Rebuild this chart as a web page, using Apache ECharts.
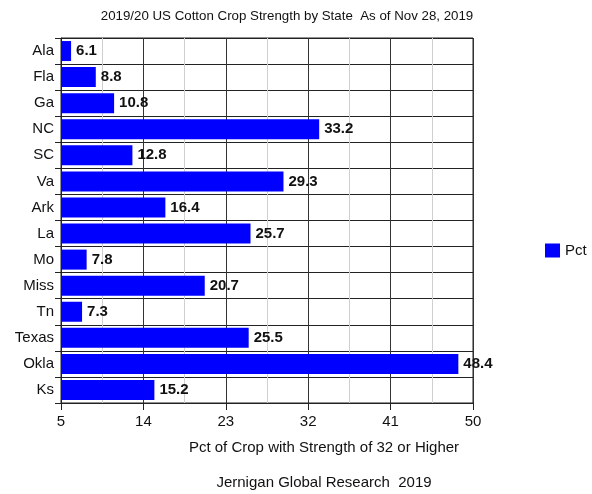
<!DOCTYPE html>
<html>
<head>
<meta charset="utf-8">
<script src="https://cdn.jsdelivr.net/npm/echarts@6/dist/echarts.min.js"></script>
<style>html,body{margin:0;padding:0;background:#fff;}#c{width:592px;height:494px;}</style>
</head>
<body>
<div id="c"></div>
<script>
const categories = ["Ala","Fla","Ga","NC","SC","Va","Ark","La","Mo","Miss","Tn","Texas","Okla","Ks"];
const pctValues = [6.1, 8.8, 10.8, 33.2, 12.8, 29.3, 16.4, 25.7, 7.8, 20.7, 7.3, 25.5, 48.4, 15.2];
const majorTicks = [5, 14, 23, 32, 41, 50];
const minorTicks = [9.5, 18.5, 27.5, 36.5, 45.5];
const seriesName = "Pct";
const titleText = "2019/20 US Cotton Crop Strength by State  As of Nov 28, 2019";
const xAxisName = "Pct of Crop with Strength of 32 or Higher";
const footerText = "Jernigan Global Research  2019";

const FONT = "Liberation Sans, Arial, sans-serif";
const chart = echarts.init(document.getElementById('c'), null, {renderer: 'canvas'});
chart.setOption({
  animation: false,
  backgroundColor: '#fff',
  textStyle: {fontFamily: FONT},
  title: [
    {text: titleText, left: 282, top: 5, textAlign: 'center',
     textStyle: {fontSize: 13.3, fontWeight: 'normal', color: '#111', fontFamily: FONT}},
    {text: xAxisName, left: 319, top: 435, textAlign: 'center',
     textStyle: {fontSize: 15, fontWeight: 'normal', color: '#111', fontFamily: FONT}},
    {text: footerText, left: 319, top: 470, textAlign: 'center',
     textStyle: {fontSize: 15, fontWeight: 'normal', color: '#111', fontFamily: FONT}}
  ],
  legend: {
    left: 545, top: 243, orient: 'vertical', padding: 0,
    icon: 'rect', itemWidth: 15, itemHeight: 14, itemGap: 5,
    textStyle: {fontSize: 15, color: '#111', fontFamily: FONT},
    data: [seriesName]
  },
  grid: {left: 61, right: 119, top: 38, bottom: 91, show: true, borderColor: '#222', borderWidth: 1, containLabel: false},
  xAxis: [
    {
      type: 'value', min: 5, max: 50, position: 'bottom',
      axisLine: {show: true, lineStyle: {color: '#222'}},
      axisTick: {show: true, length: 7, lineStyle: {color: '#222'}, customValues: majorTicks},
      axisLabel: {show: true, margin: 11, fontSize: 15, color: '#111', fontFamily: FONT, customValues: majorTicks},
      splitLine: {show: true, lineStyle: {color: '#333', width: 1}}
    },
    {
      type: 'value', min: 5, max: 50, position: 'bottom',
      axisLine: {show: false},
      axisTick: {show: false, customValues: minorTicks},
      axisLabel: {show: false, customValues: minorTicks},
      splitLine: {show: true, lineStyle: {color: '#cfcfcf', width: 1}}
    }
  ],
  yAxis: {
    type: 'category', data: categories, inverse: true,
    axisLine: {show: true, lineStyle: {color: '#222'}},
    axisTick: {show: true, length: 6, lineStyle: {color: '#222'}},
    axisLabel: {margin: 7, fontSize: 15, color: '#111', fontFamily: FONT},
    splitLine: {show: true, lineStyle: {color: '#222', width: 1}}
  },
  series: [
    {
      name: seriesName, type: 'bar', data: pctValues, xAxisIndex: 0,
      barWidth: 20, clip: true,
      itemStyle: {color: '#0000ff'},
      label: {show: true, position: 'right', distance: 5, fontSize: 15, fontWeight: 'bold', color: '#111', fontFamily: FONT},
      z: 3
    }
  ]
});
</script>
</body>
</html>
